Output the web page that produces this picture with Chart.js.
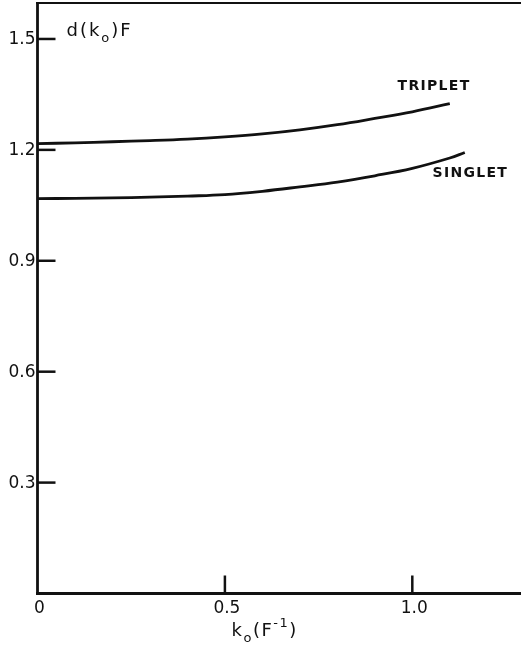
<!DOCTYPE html>
<html>
<head>
<meta charset="utf-8">
<script src="https://cdn.jsdelivr.net/npm/chart.js@4.4.1/dist/chart.umd.min.js"></script>
<style>
  html, body { margin: 0; padding: 0; background: #fff; }
  #wrap { width: 521px; height: 650px; position: relative; }
</style>
</head>
<body>
<div id="wrap"><canvas id="c" width="521" height="650"></canvas></div>
<script>
// ---- data ----
const tripletK = [0, 0.1, 0.2, 0.3, 0.4, 0.5, 0.6, 0.7, 0.8, 0.9, 1.0, 1.1];
const tripletD = [1.217, 1.219, 1.222, 1.225, 1.229, 1.235, 1.243, 1.254, 1.268, 1.285, 1.303, 1.325];
const singletK = [0, 0.1, 0.2, 0.3, 0.4, 0.5, 0.6, 0.7, 0.8, 0.9, 1.0, 1.1, 1.14];
const singletD = [1.068, 1.069, 1.070, 1.072, 1.075, 1.079, 1.088, 1.100, 1.113, 1.130, 1.150, 1.178, 1.193];
const yTickValues = [0.3, 0.6, 0.9, 1.2, 1.5];
const yTickLabels = ['0.3', '0.6', '0.9', '1.2', '1.5'];
const xTickValues = [0, 0.5, 1.0];
const xTickLabels = ['0', '0.5', '1.0'];
const seriesNames = ['TRIPLET', 'SINGLET'];
// axis titles: d(k_o)F and k_o(F^-1), as text pieces (main / sub / sup)
const yTitleParts = [['d(k', 'm'], ['o', 'sub'], [')F', 'm']];
const xTitleParts = [['k', 'm'], ['o', 'sub'], ['(F', 'm'], ['-1', 'sup'], [')', 'm']];

const toPts = (xs, ys) => xs.map((x, i) => ({ x: x, y: ys[i] }));
const INK = '#111';

function drawRich(ctx, parts, x, baseY, align, size, spacing) {
  const fontFor = k => (k === 'm' ? size : Math.round(size * 0.7)) + 'px "DejaVu Sans"';
  const offFor = k => (k === 'sub' ? size * 0.35 : k === 'sup' ? -size * 0.45 : 0);
  if ('letterSpacing' in ctx) ctx.letterSpacing = spacing + 'px';
  let total = 0;
  parts.forEach(([t, k]) => { ctx.font = fontFor(k); total += ctx.measureText(t).width; });
  let cx = align === 'center' ? x - total / 2 : x;
  ctx.textAlign = 'left';
  ctx.textBaseline = 'alphabetic';
  parts.forEach(([t, k]) => {
    ctx.font = fontFor(k);
    ctx.fillText(t, cx, baseY + offFor(k));
    cx += ctx.measureText(t).width;
  });
  if ('letterSpacing' in ctx) ctx.letterSpacing = '0px';
}

const axesPlugin = {
  id: 'paperAxes',
  afterDatasetsDraw(chart) {
    const ctx = chart.ctx;
    const xs = chart.scales.x, ys = chart.scales.y;
    const a = chart.chartArea;
    ctx.save();
    ctx.strokeStyle = INK;
    ctx.lineCap = 'butt';
    ctx.lineWidth = 2.8;
    ctx.beginPath(); ctx.moveTo(a.left, a.top); ctx.lineTo(a.left, a.bottom + 1.4); ctx.stroke();
    ctx.beginPath(); ctx.moveTo(a.left - 1.4, a.bottom); ctx.lineTo(a.right, a.bottom); ctx.stroke();
    ctx.lineWidth = 2;
    ctx.beginPath(); ctx.moveTo(a.left - 1.4, a.top + 1); ctx.lineTo(a.right, a.top + 1); ctx.stroke();

    ctx.fillStyle = INK;
    ctx.font = '17px "DejaVu Sans"';
    ctx.textAlign = 'right';
    ctx.textBaseline = 'middle';
    yTickValues.forEach((v, i) => {
      const py = ys.getPixelForValue(v);
      ctx.lineWidth = 2.5;
      ctx.beginPath(); ctx.moveTo(a.left, py); ctx.lineTo(a.left + 18, py); ctx.stroke();
      ctx.fillText(yTickLabels[i], a.left - 2, py + 1);
    });
    ctx.textAlign = 'center';
    xTickValues.forEach((v, i) => {
      const px = xs.getPixelForValue(v);
      if (v !== 0) {
        ctx.lineWidth = 2.5;
        ctx.beginPath(); ctx.moveTo(px, a.bottom); ctx.lineTo(px, a.bottom - 18); ctx.stroke();
      }
      ctx.fillText(xTickLabels[i], px + 2, a.bottom + 15);
    });

    // axis titles
    drawRich(ctx, yTitleParts, a.left + 29, ys.getPixelForValue(1.524) + 6, 'left', 18, 2);
    drawRich(ctx, xTitleParts, xs.getPixelForValue(0.606), a.bottom + 42, 'center', 18, 1.5);

    // curve labels
    ctx.font = 'bold 14px "DejaVu Sans"';
    if ('letterSpacing' in ctx) ctx.letterSpacing = '1.3px';
    ctx.textAlign = 'center';
    ctx.textBaseline = 'middle';
    ctx.fillText(seriesNames[0], xs.getPixelForValue(1.058), ys.getPixelForValue(1.372));
    ctx.fillText(seriesNames[1], xs.getPixelForValue(1.155), ys.getPixelForValue(1.136));
    ctx.restore();
  }
};

new Chart(document.getElementById('c'), {
  type: 'scatter',
  data: {
    datasets: [
      { label: seriesNames[0], data: toPts(tripletK, tripletD), showLine: true, borderColor: INK,
        borderWidth: 2.8, pointRadius: 0, tension: 0.4, fill: false },
      { label: seriesNames[1], data: toPts(singletK, singletD), showLine: true, borderColor: INK,
        borderWidth: 2.8, pointRadius: 0, tension: 0.4, fill: false }
    ]
  },
  options: {
    responsive: false,
    animation: false,
    devicePixelRatio: 1,
    layout: { padding: { left: 37.5, top: 2, right: 0, bottom: 56.5 } },
    plugins: { legend: { display: false }, tooltip: { enabled: false }, title: { display: false } },
    scales: {
      x: { type: 'linear', min: 0, max: 1.29, display: false },
      y: { type: 'linear', min: 0, max: 1.6, display: false }
    }
  },
  plugins: [axesPlugin]
});
</script>
</body>
</html>
